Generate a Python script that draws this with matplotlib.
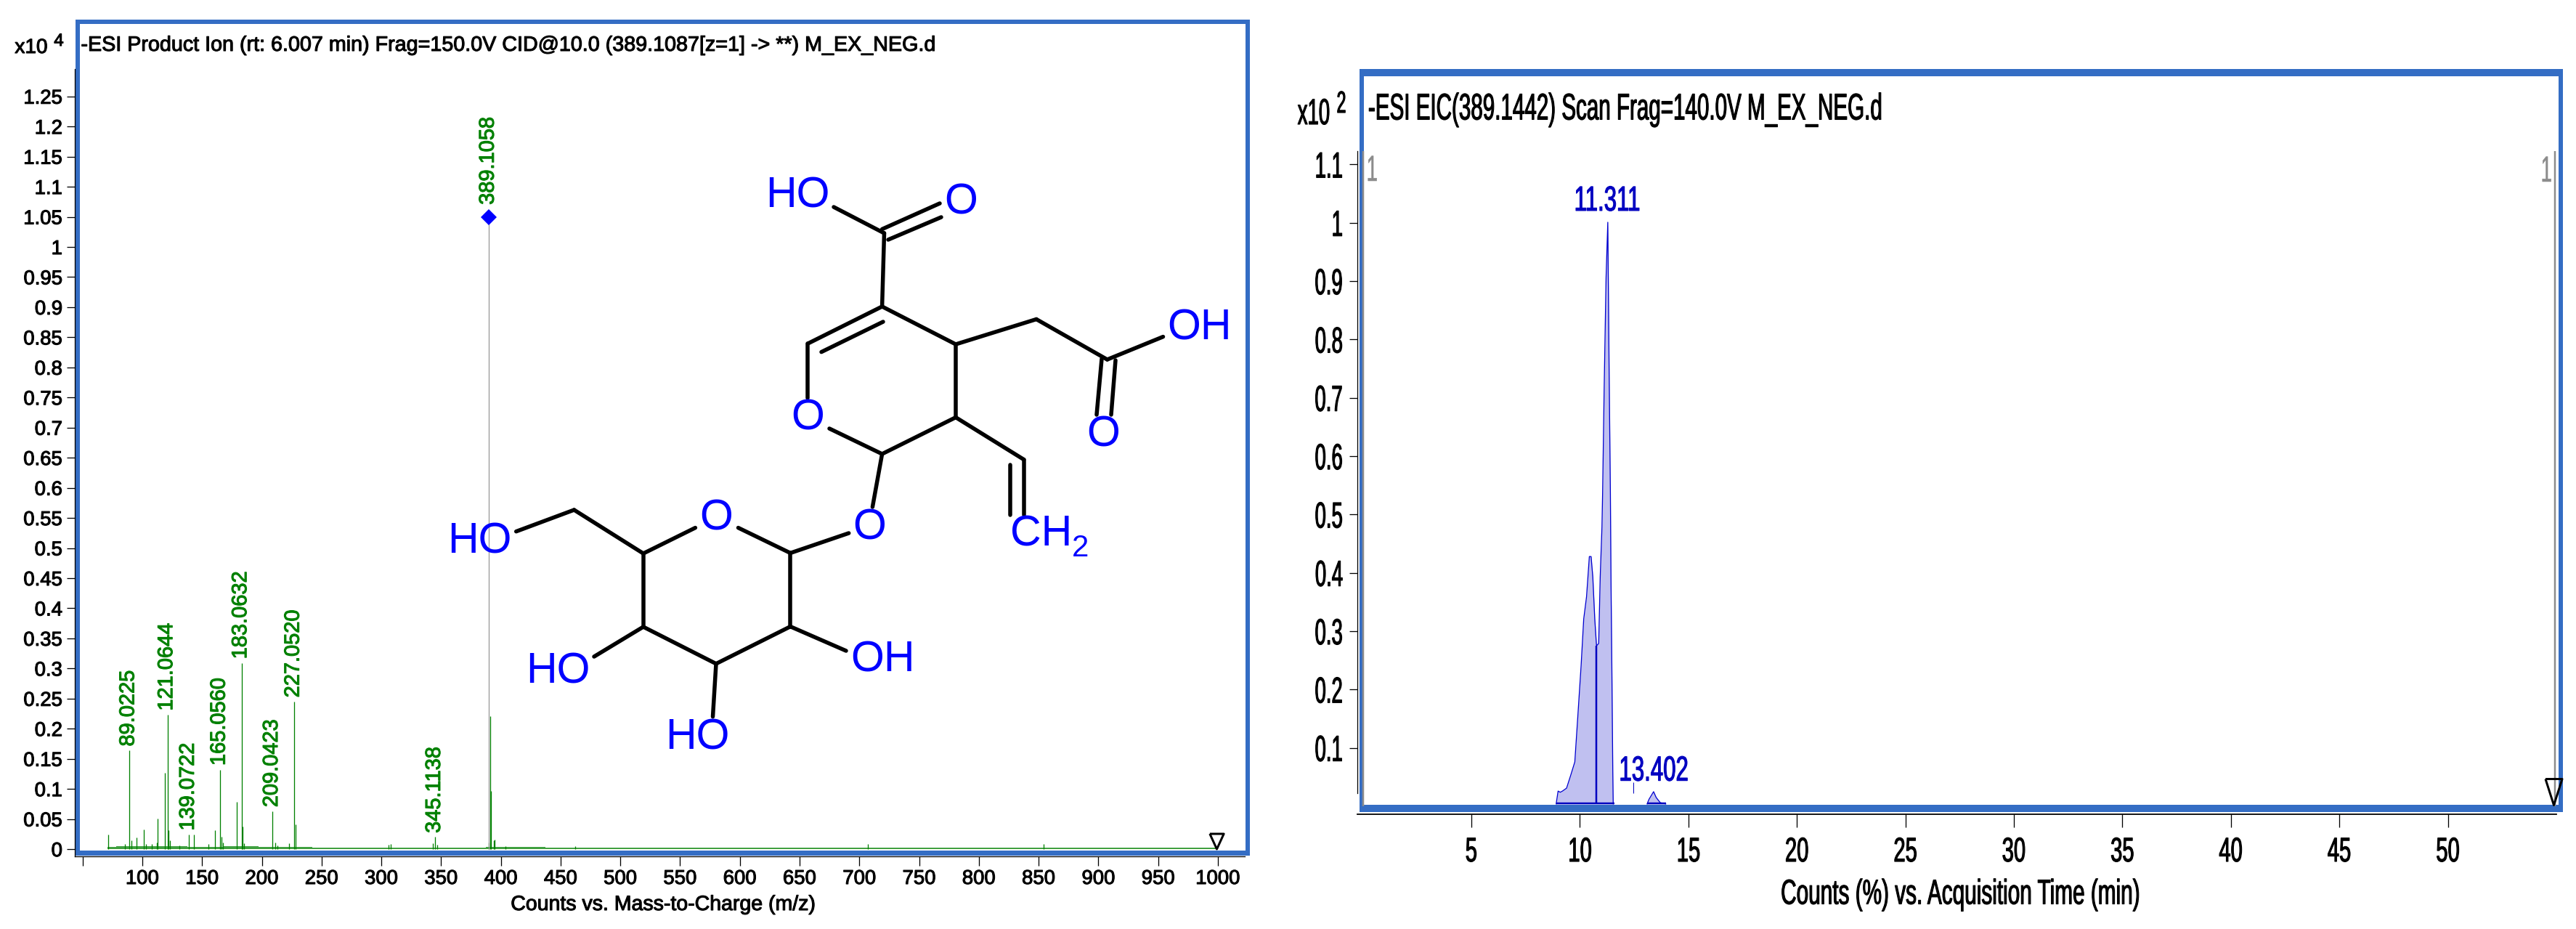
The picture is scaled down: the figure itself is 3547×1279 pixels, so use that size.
import matplotlib
matplotlib.use('Agg')
import matplotlib.pyplot as plt
from matplotlib.patches import Rectangle
from matplotlib.patheffects import AbstractPathEffect
from matplotlib.transforms import Affine2D

plt.rcParams['font.family'] = ['Liberation Sans', 'DejaVu Sans']

W, H = 3548, 1279
FRAME = '#346DC4'
GREEN = '#008000'
DBLUE = '#0000C0'

# spectrum (left)
peak_mz = [71.6, 85.5, 89.0, 91, 95, 101, 103, 108, 112, 113, 119, 121.06, 122, 123, 131, 139.07, 143, 155.5,
           161, 165.06, 166.5, 167.5, 179, 183.06, 184, 185, 209.04, 211.5, 213, 223, 227.05, 228.5,
           305.8, 308, 343, 345.11, 347, 390, 391.3, 391.7, 394, 395, 404, 462, 707, 854]
peak_int = [0.024, 0.008, 0.164, 0.014, 0.019, 0.033, 0.008, 0.008, 0.011, 0.051, 0.127, 0.223, 0.031, 0.014, 0.006, 0.024, 0.024, 0.008,
            0.032, 0.132, 0.021, 0.011, 0.079, 0.309, 0.038, 0.010, 0.063, 0.011, 0.006, 0.010, 0.245, 0.041,
            0.007, 0.009, 0.010, 0.020, 0.007, 0.011, 0.221, 0.097, 0.015, 0.016, 0.005, 0.005, 0.008, 0.008]
grass_mz = [71, 85, 100, 115, 130, 145, 160, 175, 190, 205, 220, 235, 250, 275, 300, 325, 350, 375, 400, 425, 450, 475,
            500, 525, 550, 575, 600, 625, 650, 675, 700, 725, 750, 775, 800, 825, 850, 875, 900, 925, 950, 975, 998]
grass_top = [0.004, 0.005, 0.005, 0.005, 0.005, 0.004, 0.004, 0.005, 0.005, 0.004, 0.004, 0.004, 0.003, 0.002, 0.003, 0.002, 0.003, 0.002, 0.004, 0.004, 0.003, 0.003,
             0.003, 0.003, 0.003, 0.003, 0.003, 0.003, 0.003, 0.002, 0.002, 0.003, 0.003, 0.002, 0.002, 0.002, 0.002, 0.003, 0.003, 0.003, 0.003, 0.002, 0.002]
label_mz = [89.0, 121.06, 139.07, 165.06, 183.06, 209.04, 227.05, 345.11]
label_int = [0.164, 0.223, 0.024, 0.132, 0.309, 0.063, 0.245, 0.020]
label_txt = ['89.0225', '121.0644', '139.0722', '165.0560', '183.0632', '209.0423', '227.0520', '345.1138']
base_mz, base_int, base_txt = 390, 1.05, '389.1058'
mz_ticks = list(range(50, 1001, 50))
mz_tick_labels = [''] + [str(m) for m in mz_ticks[1:]]
int_ticks = [i * 0.05 for i in range(26)]
int_tick_labels = ['0', '0.05', '0.1', '0.15', '0.2', '0.25', '0.3', '0.35', '0.4', '0.45', '0.5', '0.55', '0.6',
                   '0.65', '0.7', '0.75', '0.8', '0.85', '0.9', '0.95', '1', '1.05', '1.1', '1.15', '1.2', '1.25']

# chromatogram (right)
time1 = [8.91, 9.00, 9.10, 9.20, 9.39, 9.58, 9.77, 9.91, 10.06, 10.18, 10.31, 10.44, 10.52, 10.60, 10.69, 10.77, 10.87,
         10.94, 11.02, 11.05, 11.12, 11.21, 11.29, 11.35, 11.41, 11.44, 11.48, 11.52, 11.54]
count1 = [0.004, 0.026, 0.024, 0.026, 0.031, 0.053, 0.076, 0.155, 0.241, 0.321, 0.359, 0.428, 0.428, 0.393, 0.321, 0.275, 0.279,
          0.393, 0.478, 0.535, 0.711, 0.906, 1.001, 0.753, 0.535, 0.379, 0.227, 0.060, 0.004]
time2 = [13.10, 13.19, 13.40, 13.52, 13.71, 13.96]
count2 = [0.004, 0.012, 0.025, 0.015, 0.006, 0.004]
time_ticks = [5, 10, 15, 20, 25, 30, 35, 40, 45, 50]
cnt_ticks = [0.1, 0.2, 0.3, 0.4, 0.5, 0.6, 0.7, 0.8, 0.9, 1, 1.1]
cnt_tick_labels = ['0.1', '0.2', '0.3', '0.4', '0.5', '0.6', '0.7', '0.8', '0.9', '1', '1.1']


class Squeeze(AbstractPathEffect):
    # presses text together sideways (right panel) and thickens it a little
    def __init__(self, sx=1.0, anchor='center', thick=0.8):
        super().__init__()
        self.sx = sx
        self.anchor = anchor
        self.thick = thick

    def draw_path(self, renderer, gc, tpath, affine, rgbFace=None):
        box = tpath.transformed(affine).get_extents()
        cx = {'left': box.x0, 'right': box.x1, 'center': (box.x0 + box.x1) / 2}[self.anchor]
        squeeze = Affine2D().translate(-cx, 0).scale(self.sx, 1).translate(cx, 0)
        gc0 = renderer.new_gc()
        gc0.copy_properties(gc)
        gc0.set_linewidth(self.thick)
        gc0.set_foreground(rgbFace)
        renderer.draw_path(gc0, tpath, affine + squeeze, rgbFace)
        gc0.restore()


def px(n):
    return n * 0.72


def axes_at(x0, x1, y_top, y_bottom):
    ax = fig.add_axes([x0 / W, 1 - y_bottom / H, (x1 - x0) / W, (y_bottom - y_top) / H])
    ax.patch.set_alpha(0)
    ax.spines[['top', 'right']].set_visible(False)
    return ax


fig = plt.figure(figsize=(W / 100, H / 100), dpi=100)

# frames and free text, in picture pixels
back = fig.add_axes([0, 0, 1, 1], zorder=0)
back.set_xlim(0, W)
back.set_ylim(H, 0)
back.axis('off')
back.add_patch(Rectangle((104, 27), 1617, 1151, color=FRAME, lw=0))
back.add_patch(Rectangle((110, 33), 1605, 1138, color='white', lw=0))
back.add_patch(Rectangle((1872, 95), 1657, 1023, color=FRAME, lw=0))
back.add_patch(Rectangle((1878, 105), 1645, 1003, color='white', lw=0))

plain = [Squeeze()]
back.text(701, 62, '-ESI Product Ion (rt: 6.007 min) Frag=150.0V CID@10.0 (389.1087[z=1] -> **) M_EX_NEG.d',
          fontsize=px(28.7), ha='center', va='center', path_effects=plain)
back.text(43, 66, 'x10', fontsize=px(28), ha='center', va='center', path_effects=plain)
back.text(81, 57, '4', fontsize=px(24), ha='center', va='center', path_effects=plain)
back.text(913, 1245, 'Counts vs. Mass-to-Charge (m/z)', fontsize=px(28.5), ha='center', va='center', path_effects=plain)

back.text(1883, 151, '-ESI EIC(389.1442) Scan Frag=140.0V M_EX_NEG.d', fontsize=px(51), ha='left', va='center',
          path_effects=[Squeeze(0.58, 'left')])
back.text(1832, 158, 'x10', fontsize=px(50), ha='right', va='center', path_effects=[Squeeze(0.55, 'right')])
back.text(1847, 144, '2', fontsize=px(42), ha='center', va='center', path_effects=[Squeeze(0.55)])
back.text(2700, 1232, 'Counts (%) vs. Acquisition Time (min)', fontsize=px(48), ha='center', va='center',
          path_effects=[Squeeze(0.62)])
back.text(1889, 236, '1', color='#8C8C8C', fontsize=px(50), ha='center', va='center', path_effects=[Squeeze(0.55, thick=0.4)])
back.text(3506, 237, '1', color='#8C8C8C', fontsize=px(50), ha='center', va='center', path_effects=[Squeeze(0.55, thick=0.4)])

# left panel
ax1 = axes_at(103, 1714, 95, 1179)
ax1.set_xlim(43.5, 1022.5)
ax1.set_ylim(-0.012, 1.2955)
ax1.fill_between(grass_mz, 0, grass_top, step='mid', color=GREEN, lw=0, alpha=0.75)
ax1.vlines(peak_mz, 0, peak_int, color=GREEN, lw=px(1.3))
ax1.vlines(base_mz, 0, base_int, color='#9A9A9A', lw=px(1.3))
ax1.plot([base_mz], [base_int], marker='D', ms=px(15), color='#0000FF', mew=0, ls='none')
for m, i, t in zip(label_mz, label_int, label_txt):
    ax1.annotate(t, (m, i), xytext=(-1, 4), textcoords='offset points', rotation=90, ha='center', va='bottom',
                 color=GREEN, fontsize=px(29), path_effects=plain)
ax1.annotate(base_txt, (base_mz, base_int), xytext=(-1, 12), textcoords='offset points', rotation=90, ha='center',
             va='bottom', color=GREEN, fontsize=px(29), path_effects=plain)
tri1 = [(-0.46, 0.5), (0.46, 0.5), (0, -0.5), (-0.46, 0.5)]
ax1.plot([999], [0.013], marker=tri1, ms=px(21), mfc='none', mec='black', mew=px(3), ls='none')
ax1.set_xticks(mz_ticks, mz_tick_labels)
ax1.set_yticks(int_ticks, int_tick_labels)
ax1.tick_params(axis='x', length=px(13), width=px(1.3), pad=px(5), labelsize=px(27.5))
ax1.tick_params(axis='y', length=px(11), width=px(1.3), pad=px(6), labelsize=px(27.5))
for lab in ax1.get_xticklabels() + ax1.get_yticklabels():
    lab.set_path_effects(plain)
ax1.spines['left'].set_linewidth(px(1.3))
ax1.spines['bottom'].set_linewidth(px(1.3))

# right panel
ax2 = axes_at(1869, 3520, 208, 1121)
ax2.set_xlim(-0.25, 55.0)
ax2.set_ylim(-0.0137, 1.123)
ax2.fill_between(time1, 0.004, count1, color='#C0C0F0', lw=0)
ax2.fill_between(time2, 0.004, count2, color='#C0C0F0', lw=0)
ax2.plot(time1, count1, color='#0000D0', lw=px(1.3))
ax2.plot(time2, count2, color='#0000D0', lw=px(1.3))
ax2.hlines([0.005, 0.005], [8.91, 13.10], [11.58, 13.96], color=DBLUE, lw=px(2.5))
ax2.vlines(10.77, 0.005, 0.275, color=DBLUE, lw=px(2.5))
ax2.vlines(12.46, 0.023, 0.041, color=DBLUE, lw=px(1))
ax2.vlines([0.03, 54.92], 0, 1.123, color='#8C8C8C', lw=px(2.5))
ax2.text(11.26, 1.021, '11.311', color=DBLUE, fontsize=px(48), ha='center', va='baseline', path_effects=[Squeeze(0.65)])
ax2.text(13.40, 0.044, '13.402', color=DBLUE, fontsize=px(48), ha='center', va='baseline', path_effects=[Squeeze(0.65)])
tri2 = [(-0.32, 0.5), (0.32, 0.5), (0, -0.5), (-0.32, 0.5)]
ax2.plot([54.88], [0.025], marker=tri2, ms=px(36), mfc='none', mec='black', mew=px(3), ls='none', clip_on=False)
ax2.set_xticks(time_ticks)
ax2.set_yticks(cnt_ticks, cnt_tick_labels)
ax2.tick_params(axis='x', length=px(18), width=px(1.3), pad=px(13), labelsize=px(47))
ax2.tick_params(axis='y', length=px(11), width=px(1.3), pad=px(8), labelsize=px(50))
for lab in ax2.get_xticklabels():
    lab.set_path_effects([Squeeze(0.62)])
for lab in ax2.get_yticklabels():
    lab.set_path_effects([Squeeze(0.55, 'right')])
ax2.spines['left'].set_bounds(0.0224, 1.123)
ax2.spines['left'].set_linewidth(px(1.3))
ax2.spines['bottom'].set_linewidth(px(1.8))

# structure drawn over the spectrum, in picture pixels
mol = fig.add_axes([0, 0, 1, 1], zorder=5)
mol.set_xlim(0, W)
mol.set_ylim(H, 0)
mol.axis('off')
bonds = [
    ((1217.5, 321), (1214.6, 422)), ((1214.6, 422), (1112.4, 473)), ((1112.4, 473), (1112.4, 548)),
    ((1214.6, 422), (1316, 474)), ((1316, 474), (1316, 574.6)), ((1316, 574.6), (1214.6, 625)),
    ((1142, 590), (1214.6, 625)), ((1316, 474), (1427, 439.5)), ((1427, 439.5), (1524.6, 495)),
    ((1524.6, 495), (1601.5, 463.6)), ((1517, 494), (1510, 571)), ((1536, 496), (1530, 571)),
    ((1148, 285), (1217.5, 321)), ((1214.6, 315.5), (1294, 280)), ((1223, 330), (1296, 299)),
    ((1131, 484.6), (1216, 443)), ((1316, 574.6), (1409.8, 632.7)), ((1409.8, 632.7), (1409.8, 708.6)),
    ((1391.4, 639.6), (1391.4, 708.6)), ((1214.6, 625), (1201.4, 698)), ((1088.3, 761.4), (1168.7, 734)),
    ((1016.5, 726.6), (1088.3, 761.4)), ((1088.3, 761.4), (1088.3, 862.6)), ((1088.3, 862.6), (1165, 896)),
    ((1088.3, 862.6), (986, 913.8)), ((986, 913.8), (981.5, 986.7)), ((885.8, 863), (986, 913.8)),
    ((885.8, 762), (885.8, 863)), ((885.8, 762), (957.4, 726.6)), ((885.8, 762), (790.5, 702)),
    ((790.5, 702), (710.7, 731.7)), ((885.8, 863), (818, 904)),
]
for a, b in bonds:
    mol.plot([a[0], b[0]], [a[1], b[1]], color='black', lw=px(5.5), solid_capstyle='round')
atoms = [(1098, 267, 'HO'), (1323.6, 276, 'O'), (1652, 449, 'OH'), (1519, 595.6, 'O'), (1112.4, 572.6, 'O'),
         (1197.4, 724, 'O'), (986, 710.6, 'O'), (1215.7, 906, 'OH'), (960, 1013, 'HO'), (660, 742.7, 'HO'),
         (768, 922.4, 'HO'), (1434, 733.5, 'CH')]
for x, y, t in atoms:
    mol.text(x, y + 3, t, color='#0000FF', fontsize=px(59), ha='center', va='center')
mol.text(1488, 755, '2', color='#0000FF', fontsize=px(42), ha='center', va='center')

fig.savefig('out.png', dpi=100)
